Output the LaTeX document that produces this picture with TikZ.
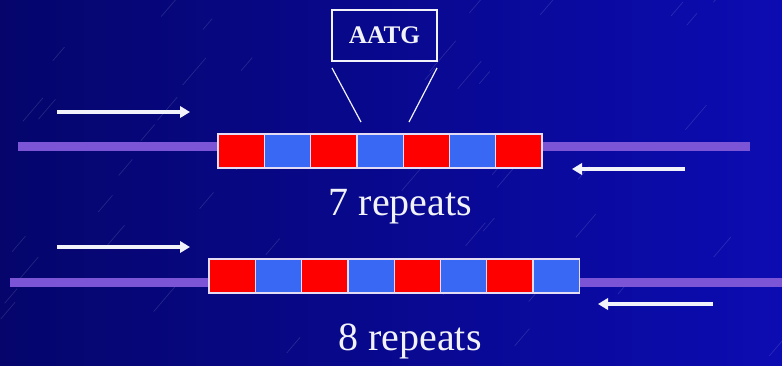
\documentclass[tikz,border=0pt]{standalone}
\usepackage{fontspec}
\setmainfont{Liberation Serif}
\usetikzlibrary{arrows.meta, positioning}
\definecolor{bgdark}{HTML}{05056C}
\definecolor{bgmid}{HTML}{08089E}
\definecolor{bglight}{HTML}{0C0CB2}
\definecolor{repred}{HTML}{FF0000}
\definecolor{repblue}{HTML}{3868F4}
\definecolor{dnapurple}{HTML}{7B55D6}
\definecolor{boxline}{HTML}{E4DCF4}
\definecolor{textwhite}{HTML}{F2F2FA}

\begin{document}
\begin{tikzpicture}[x=0.75pt, y=-0.75pt, >={Triangle[length=7.5pt, width=8.5pt]},
		line width=0.75pt, node distance=34.725pt,
		repbox/.style={draw=boxline, line width=1pt, minimum width=34.725pt,
			minimum height=25.5pt, inner sep=0pt},
		redbox/.style={repbox, fill=repred},
		bluebox/.style={repbox, fill=repblue},
		strand/.style={draw=dnapurple, line width=6.75pt},
		primer/.style={draw=textwhite, line width=3pt, ->},
		caption/.style={text=textwhite, font=\fontsize{30}{36}\selectfont, anchor=base}]

		% background
		\useasboundingbox (0,0) rectangle (782,365);
		\fill[left color=bgdark, middle color=bgmid, right color=bglight] (0,0) rectangle (782,365);
		\begin{scope}
			\clip (0,0) rectangle (782,365);
			\pgfmathsetseed{11}
			\foreach \k in {1,...,45} {
					\pgfmathsetmacro{\sx}{rnd*782}
					\pgfmathsetmacro{\sy}{rnd*365}
					\pgfmathsetmacro{\sl}{12+rnd*30}
					\draw[white, opacity=0.13, line width=0.5pt] (\sx,\sy) -- ++(0.65*\sl, -0.76*\sl);
				}
		\end{scope}

		% 7 repeats
		\coordinate (s7a) at (18,146);
		\coordinate (s7b) at (750,146);
		\draw[strand] (s7a) -- (s7b);

		\node[redbox] (t1) at (241.15,151) {};
		\foreach \i in {2,...,7} {
				\pgfmathtruncatemacro{\j}{\i-1}
				\ifodd\i \def\boxkind{redbox}\else\def\boxkind{bluebox}\fi
				\node[\boxkind, right of=t\j] (t\i) {};
			}

		\node[draw=textwhite, line width=1.1pt, minimum width=78.75pt, minimum height=38.25pt,
			text=textwhite, font=\fontsize{19}{22}\selectfont\bfseries] (motif) at (384.5,35.5) {AATG};
		\coordinate (ml) at (332,68);
		\coordinate (mr) at (437,68);
		\coordinate (tl) at (361,122);
		\coordinate (tr) at (409,122);
		\draw[textwhite, line width=0.9pt] (ml) -- (tl);
		\draw[textwhite, line width=0.9pt] (mr) -- (tr);

		\coordinate (f7a) at (57,112);
		\coordinate (f7b) at (190,112);
		\coordinate (r7a) at (685,169);
		\coordinate (r7b) at (572,169);
		\draw[primer] (f7a) -- (f7b);
		\draw[primer] (r7a) -- (r7b);

		\node[caption] (lab7) at (400.5,215) {7 repeats};

		% 8 repeats
		\coordinate (s8a) at (10,282);
		\coordinate (s8b) at (782,282);
		\draw[strand] (s8a) -- (s8b);

		\node[redbox] (b1) at (232.15,276) {};
		\foreach \i in {2,...,8} {
				\pgfmathtruncatemacro{\j}{\i-1}
				\ifodd\i \def\boxkind{redbox}\else\def\boxkind{bluebox}\fi
				\node[\boxkind, right of=b\j] (b\i) {};
			}

		\coordinate (f8a) at (57,247);
		\coordinate (f8b) at (190,247);
		\coordinate (r8a) at (713,304);
		\coordinate (r8b) at (598,304);
		\draw[primer] (f8a) -- (f8b);
		\draw[primer] (r8a) -- (r8b);

		\node[caption] (lab8) at (410,350) {8 repeats};
	\end{tikzpicture}
\end{document}
